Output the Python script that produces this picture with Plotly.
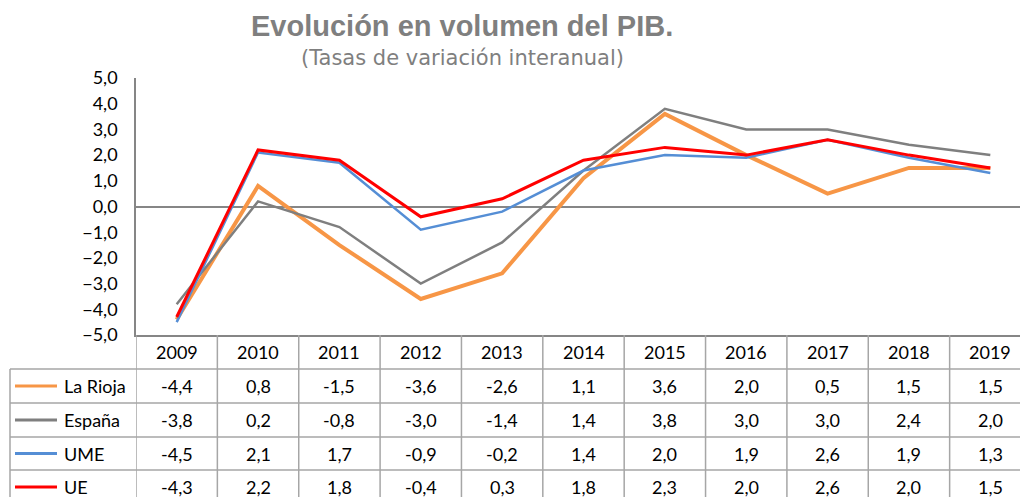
import plotly.graph_objects as go

years = ["2009", "2010", "2011", "2012", "2013", "2014", "2015", "2016", "2017", "2018", "2019"]
series_names = ["La Rioja", "España", "UME", "UE"]
la_rioja = [-4.4, 0.8, -1.5, -3.6, -2.6, 1.1, 3.6, 2.0, 0.5, 1.5, 1.5]
espana = [-3.8, 0.2, -0.8, -3.0, -1.4, 1.4, 3.8, 3.0, 3.0, 2.4, 2.0]
ume = [-4.5, 2.1, 1.7, -0.9, -0.2, 1.4, 2.0, 1.9, 2.6, 1.9, 1.3]
ue = [-4.3, 2.2, 1.8, -0.4, 0.3, 1.8, 2.3, 2.0, 2.6, 2.0, 1.5]
y_ticks = [5, 4, 3, 2, 1, 0, -1, -2, -3, -4, -5]

values = [la_rioja, espana, ume, ue]
colors = ["#F79646", "#7F7F7F", "#558ED5", "#FF0000"]
widths = [4, 2.5, 2.5, 3]

W, H = 1020, 497
L, T, B = 136, 78, 335   # plot area in pixels
FONT = "Lato, Carlito, Calibri, sans-serif"


def py(p):
    """pixel y -> paper y"""
    return (B - p) / (B - T)


def px(p):
    """pixel x -> paper x"""
    return (p - L) / (W - L)


fig = go.Figure()
for name, vals, c, w in zip(series_names, values, colors, widths):
    fig.add_trace(go.Scatter(x=years, y=vals, mode="lines", name=name,
                             line=dict(color=c, width=w), showlegend=False))

shapes = []
annotations = []
grid = "#A6A6A6"

# table horizontal lines
row_lines = [369, 403, 437, 470]
for yy in row_lines:
    shapes.append(dict(type="line", xref="paper", yref="paper", x0=px(10), x1=1,
                       y0=py(yy), y1=py(yy), line=dict(color=grid, width=1.5)))
# table vertical lines (column boundaries)
for i in range(len(years) + 1):
    shapes.append(dict(type="line", xref="x", yref="paper", x0=i - 0.5, x1=i - 0.5,
                       y0=py(B), y1=py(H + 5), line=dict(color=grid, width=1.5)))
# left border of legend column
shapes.append(dict(type="line", xref="paper", yref="paper", x0=px(10), x1=px(10),
                   y0=py(369), y1=py(H + 5), line=dict(color=grid, width=1.5)))

# header row
for i, yr in enumerate(years):
    annotations.append(dict(x=i, xref="x", y=py(352), yref="paper", text=yr,
                            showarrow=False, font=dict(family=FONT, size=18, color="#000000"),
                            xanchor="center", yanchor="middle"))

row_centers = [386, 420, 453.5, 487]
for name, vals, c, yc in zip(series_names, values, colors, row_centers):
    shapes.append(dict(type="line", xref="paper", yref="paper", x0=px(15), x1=px(57),
                       y0=py(yc), y1=py(yc), line=dict(color=c, width=3)))
    annotations.append(dict(x=px(62), xref="paper", y=py(yc), yref="paper", text=name,
                            showarrow=False, font=dict(family=FONT, size=18, color="#000000"),
                            xanchor="left", yanchor="middle"))
    for i, v in enumerate(vals):
        annotations.append(dict(x=i, xref="x", y=py(yc), yref="paper",
                                text=f"{v:.1f}".replace(".", ","),
                                showarrow=False, font=dict(family=FONT, size=18, color="#000000"),
                                xanchor="center", yanchor="middle"))

# title and subtitle
annotations.append(dict(x=px(462), xref="paper", y=py(26), yref="paper",
                        text="<b>Evolución en volumen del PIB.</b>", showarrow=False,
                        font=dict(family="Liberation Sans, Arial, sans-serif", size=29, color="#7F7F7F"),
                        xanchor="center", yanchor="middle"))
annotations.append(dict(x=px(462), xref="paper", y=py(58), yref="paper",
                        text="(Tasas de variación interanual)", showarrow=False,
                        font=dict(family="DejaVu Sans, sans-serif", size=21, color="#7F7F7F"),
                        xanchor="center", yanchor="middle"))

fig.update_layout(
    width=W, height=H,
    margin=dict(l=L, r=0, t=T, b=H - B, pad=0, autoexpand=False),
    plot_bgcolor="white", paper_bgcolor="white",
    separators=",.",
    shapes=shapes, annotations=annotations,
    xaxis=dict(type="category", range=[-0.5, 10.5 - (1031 - W) / ((W - L) / 10.865)],
               showticklabels=False, showgrid=False, zeroline=False, automargin=False,
               showline=True, linecolor="#868686", linewidth=1.5, ticks=""),
    yaxis=dict(range=[-5, 5], tickvals=y_ticks, tickformat=".1f", showgrid=False,
               zeroline=True, zerolinecolor="#868686", zerolinewidth=1.5, automargin=False,
               showline=True, linecolor="#868686", linewidth=1.5,
               ticks="", ticklabelstandoff=13,
               tickfont=dict(family=FONT, size=18, color="#000000")),
)

fig.write_html("out.html", config={"displayModeBar": False},
               post_script="document.body.style.margin='0';document.body.style.overflow='hidden';")
